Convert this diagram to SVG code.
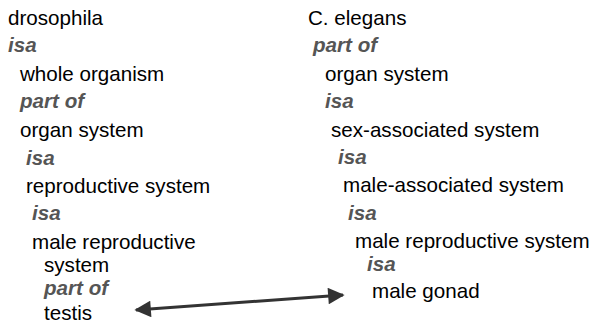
<svg xmlns="http://www.w3.org/2000/svg" width="595" height="324" viewBox="0 0 595 324">
  <style>
    text { font-family: "Liberation Sans", Arial, Helvetica, sans-serif; font-size: 20.6px; fill: #000; }
    .rel { font-weight: bold; font-style: italic; fill: #555; }
    .link { stroke: #333; stroke-width: 3; fill: none; }
  </style>
  <defs>
    <marker id="head" viewBox="0 0 10 10" refX="9" refY="5" markerWidth="6" markerHeight="5.5" orient="auto-start-reverse" markerUnits="strokeWidth">
      <path d="M0,0 L10,5 L0,10 Z" fill="#333"/>
    </marker>
  </defs>
  <rect width="595" height="324" fill="#fff"/>

  <!-- Drosophila chain -->
  <g id="drosophila">
    <text x="8" y="25">drosophila</text>
    <text class="rel" x="8" y="52">isa</text>
    <text x="20" y="81">whole organism</text>
    <text class="rel" x="20" y="108">part of</text>
    <text x="20" y="137">organ system</text>
    <text class="rel" x="26" y="165">isa</text>
    <text x="26" y="193">reproductive system</text>
    <text class="rel" x="32" y="220">isa</text>
    <text x="32" y="249">male reproductive</text>
    <text x="44" y="272">system</text>
    <text class="rel" x="44" y="295">part of</text>
  </g>
  <g id="testis">
    <text x="44" y="320">testis</text>
  </g>

  <!-- C. elegans chain -->
  <g id="c-elegans">
    <text x="308" y="25">C. elegans</text>
    <text class="rel" x="313" y="52">part of</text>
    <text x="325" y="81">organ system</text>
    <text class="rel" x="325" y="108">isa</text>
    <text x="331" y="137">sex-associated system</text>
    <text class="rel" x="338" y="164">isa</text>
    <text x="343" y="192">male-associated system</text>
    <text class="rel" x="348" y="220">isa</text>
    <text x="355" y="248">male reproductive system</text>
    <text class="rel" x="367" y="271">isa</text>
  </g>
  <g id="male-gonad">
    <text x="372" y="298">male gonad</text>
  </g>

  <!-- Correspondence link -->
  <g id="connectors">
    <line class="link" x1="136" y1="310" x2="343" y2="295" marker-start="url(#head)" marker-end="url(#head)"/>
  </g>
</svg>
